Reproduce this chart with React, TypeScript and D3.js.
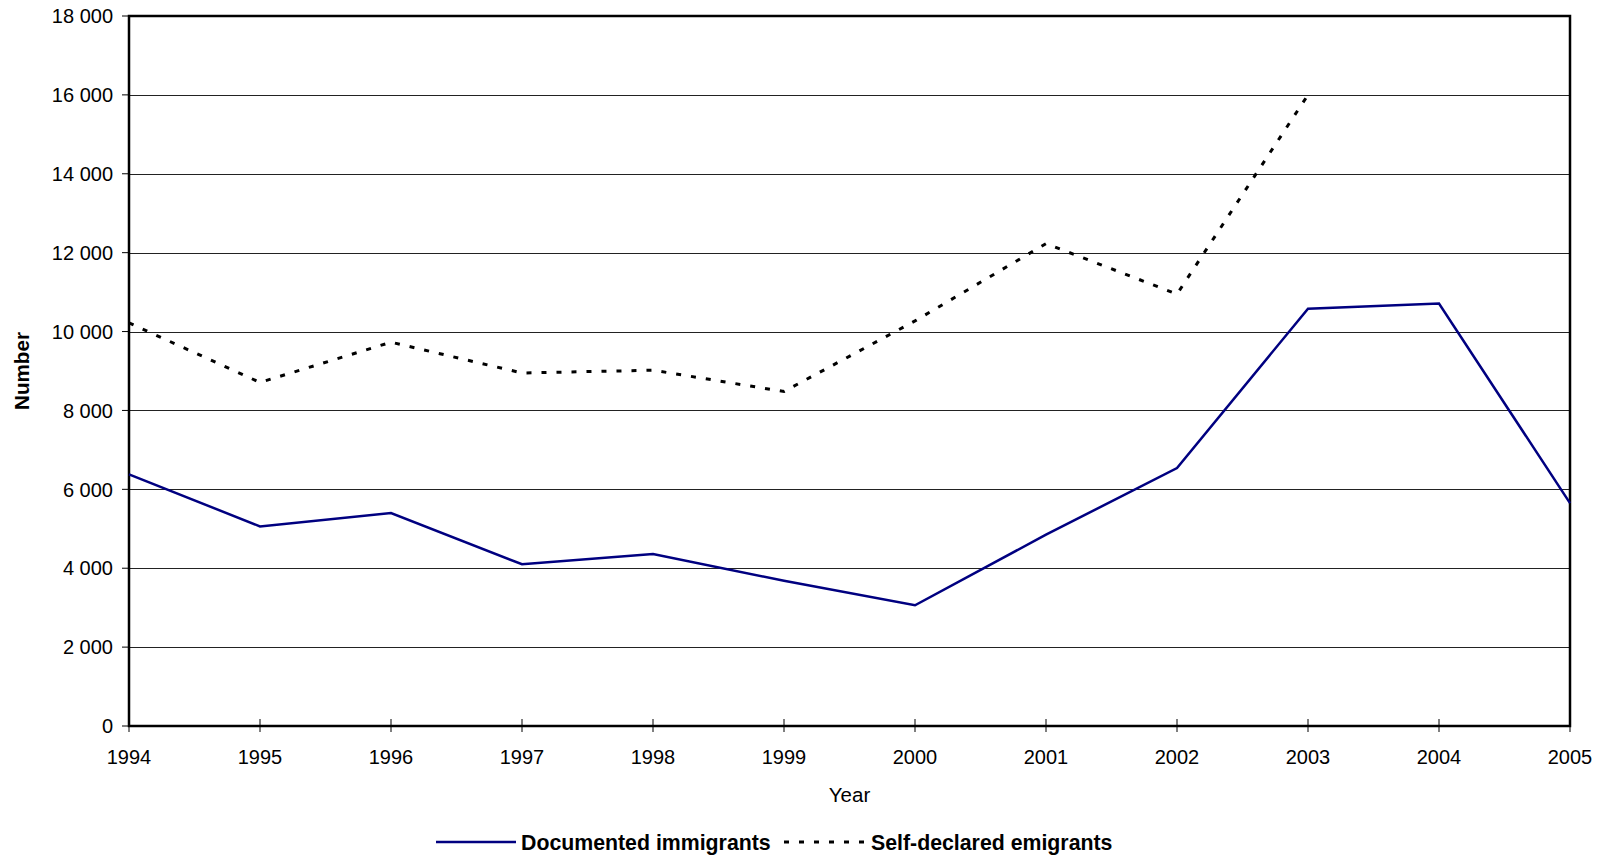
import React, { useEffect, useRef } from "react";
import * as d3 from "d3";

const years = [1994, 1995, 1996, 1997, 1998, 1999, 2000, 2001, 2002, 2003, 2004, 2005];
const documented = [6380, 5060, 5400, 4100, 4360, 3680, 3060, 4850, 6540, 10580, 10710, 5650];
// self-declared series stops at 2003
const selfDeclared = [10220, 8710, 9730, 8950, 9020, 8480, 10270, 12230, 10950, 16000];
const yTicks = [0, 2000, 4000, 6000, 8000, 10000, 12000, 14000, 16000, 18000];

const App: React.FC = () => {
  const svgRef = useRef<SVGSVGElement>(null);

  useEffect(() => {
    const W = 1603;
    const H = 858;
    const margin = { top: 16, right: 33, bottom: 132, left: 129 };
    const width = W - margin.left - margin.right;
    const height = H - margin.top - margin.bottom;
    const font = "'Liberation Sans', Arial, sans-serif";

    const svg = d3.select(svgRef.current);
    svg.selectAll("*").remove();

    const g = svg
      .append("g")
      .attr("transform", `translate(${margin.left},${margin.top})`);

    const x = d3.scaleLinear().domain([1994, 2005]).range([0, width]);
    const y = d3.scaleLinear().domain([0, 18000]).range([height, 0]);

    const fmt = d3
      .formatLocale({ decimal: ".", thousands: " ", grouping: [3], currency: ["", ""] })
      .format(",");

    // gridlines
    g.selectAll("line.grid")
      .data(yTicks.slice(1, -1))
      .enter()
      .append("line")
      .attr("x1", 0)
      .attr("x2", width)
      .attr("y1", (d) => Math.round(y(d)) + 0.5)
      .attr("y2", (d) => Math.round(y(d)) + 0.5)
      .attr("stroke", "#222")
      .attr("stroke-width", 1);

    // y ticks + labels
    const yAxis = g.append("g");
    yAxis
      .selectAll("line")
      .data(yTicks)
      .enter()
      .append("line")
      .attr("x1", -7)
      .attr("x2", 0)
      .attr("y1", (d) => y(d))
      .attr("y2", (d) => y(d))
      .attr("stroke", "#000")
      .attr("stroke-width", 1);
    yAxis
      .selectAll("text")
      .data(yTicks)
      .enter()
      .append("text")
      .attr("x", -16)
      .attr("y", (d) => y(d))
      .attr("dy", "0.36em")
      .attr("text-anchor", "end")
      .attr("font-family", font)
      .attr("font-size", 20)
      .attr("fill", "#000")
      .text((d) => fmt(d));

    // x ticks + labels
    const xAxis = g.append("g").attr("transform", `translate(0,${height})`);
    xAxis
      .selectAll("line")
      .data(years)
      .enter()
      .append("line")
      .attr("x1", (d) => x(d))
      .attr("x2", (d) => x(d))
      .attr("y1", -7)
      .attr("y2", 6)
      .attr("stroke", "#000")
      .attr("stroke-width", 1);
    xAxis
      .selectAll("text")
      .data(years)
      .enter()
      .append("text")
      .attr("x", (d) => x(d))
      .attr("y", 38)
      .attr("text-anchor", "middle")
      .attr("font-family", font)
      .attr("font-size", 20)
      .attr("fill", "#000")
      .text((d) => d);

    // frame
    g.append("rect")
      .attr("x", 0)
      .attr("y", 0)
      .attr("width", width)
      .attr("height", height)
      .attr("fill", "none")
      .attr("stroke", "#000")
      .attr("stroke-width", 2.5);

    // lines
    const line = d3
      .line<number>()
      .x((d, i) => x(years[i]))
      .y((d) => y(d));

    g.append("path")
      .datum(selfDeclared)
      .attr("fill", "none")
      .attr("stroke", "#000")
      .attr("stroke-width", 3)
      .attr("stroke-dasharray", "5,10")
      .attr("d", line);

    g.append("path")
      .datum(documented)
      .attr("fill", "none")
      .attr("stroke", "#000080")
      .attr("stroke-width", 2.5)
      .attr("d", line);

    // axis titles
    svg
      .append("text")
      .attr("x", margin.left + width / 2)
      .attr("y", 802)
      .attr("text-anchor", "middle")
      .attr("font-family", font)
      .attr("font-size", 20.5)
      .text("Year");

    svg
      .append("text")
      .attr("transform", `translate(29,${margin.top + height / 2}) rotate(-90)`)
      .attr("text-anchor", "middle")
      .attr("font-family", font)
      .attr("font-size", 20.6)
      .attr("font-weight", "bold")
      .text("Number");

    // legend
    const leg = svg.append("g").attr("transform", "translate(0,842)");
    leg
      .append("line")
      .attr("x1", 436)
      .attr("x2", 516)
      .attr("stroke", "#000080")
      .attr("stroke-width", 2.5);
    leg
      .append("text")
      .attr("x", 521)
      .attr("dy", "0.36em")
      .attr("font-family", font)
      .attr("font-size", 21.3)
      .attr("font-weight", "bold")
      .text("Documented immigrants");
    leg
      .append("line")
      .attr("x1", 784)
      .attr("x2", 866)
      .attr("stroke", "#000")
      .attr("stroke-width", 3)
      .attr("stroke-dasharray", "5,10");
    leg
      .append("text")
      .attr("x", 871)
      .attr("dy", "0.36em")
      .attr("font-family", font)
      .attr("font-size", 21.3)
      .attr("font-weight", "bold")
      .text("Self-declared emigrants");
  }, []);

  return (
    <div style={{ position: "absolute", left: 0, top: 0 }}>
      <svg ref={svgRef} width={1603} height={858} style={{ display: "block", background: "#fff" }}></svg>
    </div>
  );
};

export default App;
